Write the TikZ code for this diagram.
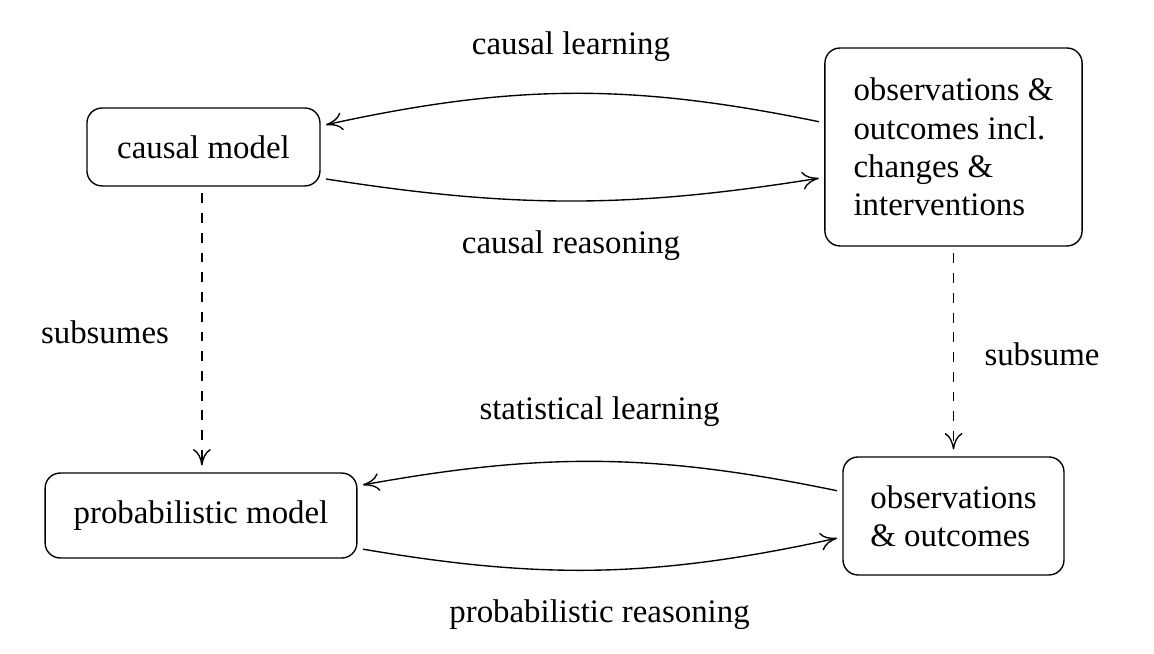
\documentclass[tikz,border=0pt]{standalone}
\usepackage{fontspec}
\setmainfont{Liberation Serif}
\usetikzlibrary{arrows.meta,calc}

\begin{document}
\begin{tikzpicture}[
    font=\fontsize{12}{14}\selectfont,
    box/.style={draw, rounded corners=5.5pt, line width=0.5pt, align=left, inner sep=0pt},
    flow/.style={-{To[length=6pt,width=6.5pt]}, line width=0.5pt, shorten <=2pt, shorten >=2pt},
    sub/.style={flow, dash pattern=on 3.6pt off 3.6pt, shorten <=2.5pt, shorten >=2.5pt}
]
\useasboundingbox (0,0) rectangle (14.808,-8.392);

% Boxes
\node[box, minimum width=2.99cm, minimum height=1.00cm] (cm) at (2.611,-1.886) {causal model};
\node[box, minimum width=3.30cm, minimum height=2.54cm] (obs) at (12.235,-1.886)
    {observations \&\\outcomes incl.\\changes \&\\interventions};
\node[box, minimum width=4.00cm, minimum height=1.09cm] (pm) at (2.579,-6.615) {probabilistic model};
\node[box, minimum width=2.836cm, minimum height=1.514cm] (oo) at (12.235,-6.621)
    {observations\\\& outcomes};

% Labels
\node (learn) at (7.327,-0.603) {causal learning};
\node (reason) at (7.327,-3.157) {causal reasoning};
\node (subl) at (1.347,-4.260) {subsumes};
\node (subr) at (13.371,-4.543) {subsume};
\node (statlearn) at (7.693,-5.287) {statistical learning};
\node (probreason) at (7.693,-7.892) {probabilistic reasoning};

% Learning and reasoning
\draw[flow] ($(obs.west)+(0,0.31)$) to[bend right=12] ($(cm.east)+(0,0.27)$);
\draw[flow] ($(cm.east)+(0,-0.40)$) to[bend right=9] ($(obs.west)+(0,-0.39)$);
\draw[flow] ($(oo.west)+(0,0.31)$) to[bend right=11] ($(pm.east)+(0,0.38)$);
\draw[flow] ($(pm.east)+(0,-0.42)$) to[bend right=11] ($(oo.west)+(0,-0.27)$);

% Subsumption
\draw[sub] ($(cm.south)+(-0.02,0)$) -- ($(cm.south |- pm.north)+(-0.02,0)$);
\draw[sub] (obs.south) -- (oo.north);

\end{tikzpicture}
\end{document}
